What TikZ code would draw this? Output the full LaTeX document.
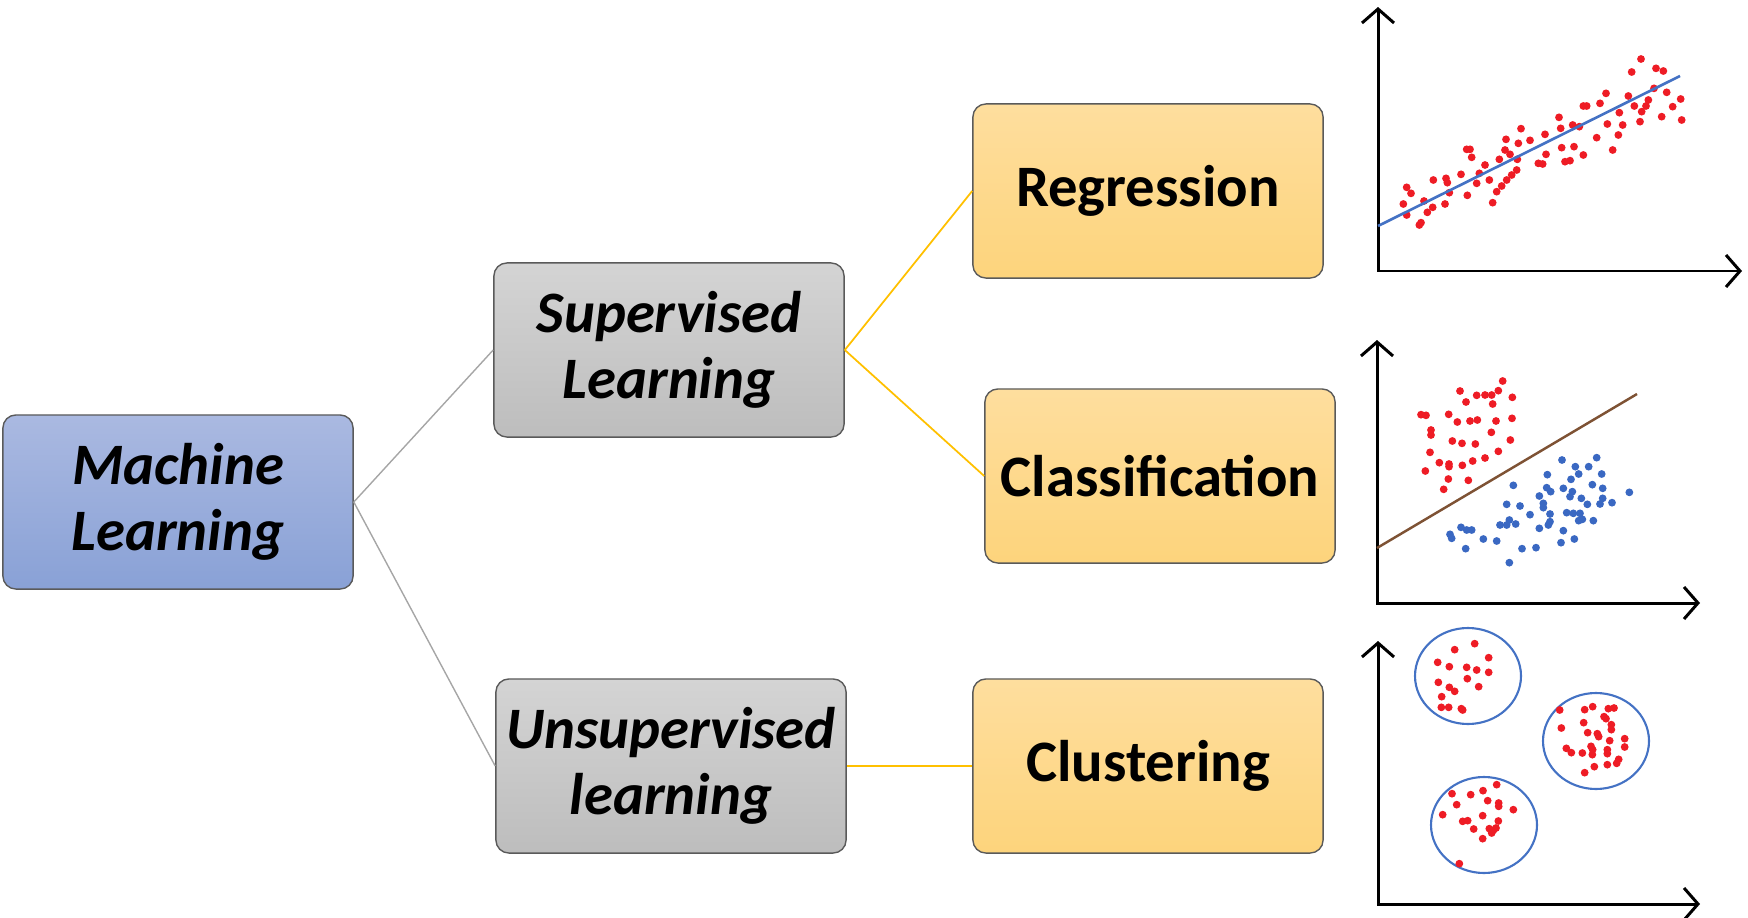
\documentclass[tikz,border=0pt]{standalone}
\usepackage{fontspec}
\setmainfont{Carlito}
\usepackage{tikz}
\usetikzlibrary{arrows.meta}
\definecolor{mltop}{HTML}{AAB9E1}
\definecolor{mlbot}{HTML}{89A1D6}
\definecolor{greytop}{HTML}{D4D4D4}
\definecolor{greybot}{HTML}{BDBDBD}
\definecolor{goldtop}{HTML}{FEDE9E}
\definecolor{goldbot}{HTML}{FDD47C}
\definecolor{boxline}{HTML}{5A5A5A}
\definecolor{linkgrey}{HTML}{A6A6A6}
\definecolor{linkgold}{HTML}{FFC000}
\definecolor{dotred}{HTML}{EE1C25}
\definecolor{dotblue}{HTML}{3A68C2}
\definecolor{fitblue}{HTML}{4472C4}
\definecolor{splitbrown}{HTML}{7E5234}
\newcommand{\boxfont}{\fontsize{16.7}{18.8}\selectfont\bfseries}

\begin{document}
\begin{tikzpicture}[x=0.01cm, y=0.01cm]
\tikzstyle{every node}+=[inner sep=0pt]
\tikzstyle{box}=[draw=boxline, line width=0.4pt, rounded corners=0.13cm, minimum width=3.5cm, minimum height=1.74cm, align=center]
\tikzstyle{mlbox}=[box, top color=mltop, bottom color=mlbot, font=\boxfont\itshape]
\tikzstyle{greybox}=[box, top color=greytop, bottom color=greybot, font=\boxfont\itshape]
\tikzstyle{goldbox}=[box, top color=goldtop, bottom color=goldbot, font=\boxfont]
\tikzstyle{greylink}=[draw=linkgrey, line width=0.4pt]
\tikzstyle{goldlink}=[draw=linkgold, line width=0.5pt]
\tikzstyle{axis}=[black, line width=0.85pt, {Straight Barb[length=1.4mm, width=3.2mm]}-{Straight Barb[length=1.4mm, width=3.2mm]}]
\tikzstyle{reddot}=[dotred]
\tikzstyle{bluedot}=[dotblue]
\useasboundingbox (0,0) rectangle (1748,-918);
% tree
\node [mlbox] (ml) at (178,-502) {Machine\\Learning};
\node [greybox] (sup) at (669,-350) {Supervised\\Learning};
\node [greybox] (unsup) at (671,-766) {Unsupervised\\learning};
\node [goldbox] (reg) at (1148,-191) {Regression};
\node [goldbox] (cls) at (1160,-476) {Classification};
\node [goldbox] (clu) at (1148,-766) {Clustering};
\draw [greylink] (ml.east) -- (sup.west);
\draw [greylink] (ml.east) -- (unsup.west);
\draw [goldlink] (sup.east) -- (reg.west);
\draw [goldlink] (sup.east) -- (cls.west);
\draw [goldlink] (unsup.east) -- (clu.west);
% regression plot
\draw [axis] (1378,-7) -- (1378,-271) -- (1742,-271);
\foreach \a/\b in {170/562,183/580,160/612,170/645,208/675,213/668,222/603,232/637,248/622,250/540,288/535,292/548,298/578,285/612,333/523,352/586,350/448,360/448,365/472,380/550,388/520,405/495,418/540,428/608,440/575,455/558,470/540,485/525,500/510,448/478,468/418,465/450,480/463,502/478,513/386,505/430,540/421,565/490,578/492,588/463,585/403,627/352,632/385,635/443,645/485,660/482,672/440,668/375,688/380,700/465,700/318,710/318,740/413,750/310,768/280,772/372,788/450,805/405,808/338,818/375,835/288,845/216,853/318,873/177,870/365,875/335,888/318,895/300,912/265,918/205,940/213,950/277,935/350,968/320,992/297,995/360}
  \fill [reddot] (1350+\a/3,-\b/3) circle (3.9);
\draw [fitblue, line width=0.75pt] (1378,-226) -- (1680,-76);
% classification plot
\draw [axis] (1377,-340) -- (1377,-603) -- (1700,-603);
\foreach \a/\b in {330/213,348/246,380/226,405/225,425/225,445/212,458/183,487/232,428/252,213/284,228/286,296/283,322/306,360/303,382/300,438/303,486/295,243/330,243/345,307/363,336/370,376/372,424/337,481/360,240/397,268/428,297/432,297/440,337/436,368/423,405/414,445/394,226/453,295/477,355/481,281/508}
  \fill [reddot] (1350+\a/3,-320-\b/3) circle (3.9);
\foreach \a/\b in {490/496,470/553,510/558,540/584,592/464,590/503,602/515,568/528,580/550,580/563,600/582,568/625,595/615,600/605,640/632,633/668,673/657,636/420,676/440,686/462,716/440,740/413,755/462,663/478,727/494,640/505,667/515,660/530,694/535,712/553,758/505,758/535,750/552,786/548,838/517,650/578,670/580,690/580,686/602,697/598,730/602,300/643,305/655,333/622,350/630,365/630,347/686,400/657,440/663,450/615,470/615,478/600,497/612,478/728,516/686,558/683}
  \fill [bluedot] (1350+\a/3,-320-\b/3) circle (3.9);
\draw [splitbrown, line width=0.7pt] (1377,-548) -- (1637,-394);
% clustering plot
\draw [axis] (1378,-641) -- (1378,-904) -- (1700,-904);
\draw [fitblue, line width=0.6pt] (1468,-676) ellipse (53 and 48);
\draw [fitblue, line width=0.6pt] (1596,-741) ellipse (53 and 48);
\draw [fitblue, line width=0.6pt] (1484,-825) ellipse (53 and 48);
\foreach \a/\b in {374/77,314/95,416/119,263/133,298/146,350/148,380/156,416/163,352/182,265/193,298/208,314/220,386/206,275/236,274/268,296/268,334/272,338/276,629/276,704/275,728/266,775/272,792/270,762/296,768/302,701/314,784/320,784/335,634/330,713/344,742/347,746/356,779/368,824/362,824/387,649/391,664/404,697/405,723/385,728/395,727/410,772/395,772/407,733/446,772/440,800/436,806/424,704/464,440/500,306/527,362/530,399/518,413/548,446/555,446/565,320/560,490/575,278/590,338/610,353/608,398/593,445/609,371/633,418/632,430/637,438/630,425/645,398/662,328/737}
  \fill [reddot] (1350+\a/3,-618-\b/3) circle (3.9);
\end{tikzpicture}
\end{document}
